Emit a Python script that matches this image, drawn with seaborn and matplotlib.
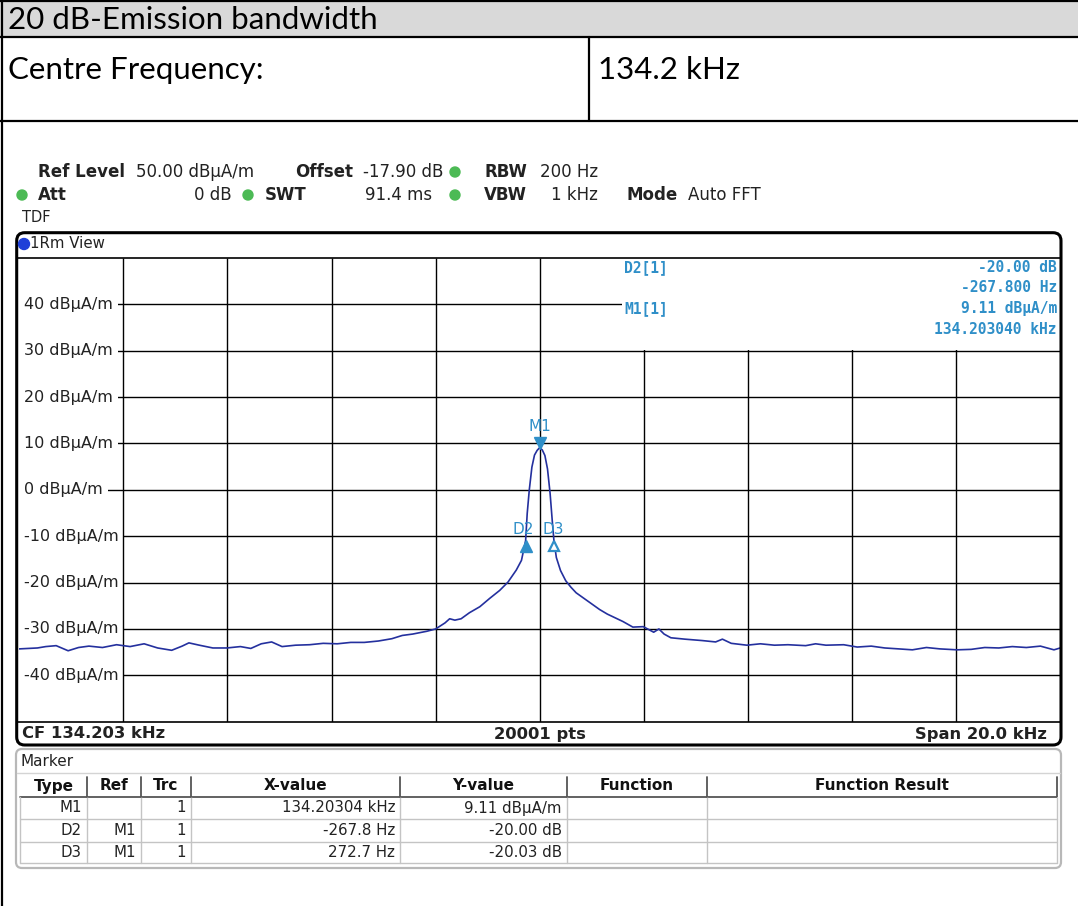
import numpy as np
import pandas as pd
import matplotlib
matplotlib.use("Agg")
import matplotlib.pyplot as plt
import seaborn as sns
from matplotlib.patches import Rectangle, FancyBboxPatch, Circle

# ---------------- data ----------------
cf_khz = 134.203
span_khz = 20.0
ref_level = 50.0
bottom_level = -50.0

offset_khz = [
    -10.0, -9.65, -9.49, -9.29, -9.06, -8.86, -8.66, -8.40, -8.13, -7.87,
    -7.60, -7.34, -7.07, -6.87, -6.74, -6.54, -6.28, -6.01, -5.75, -5.55,
    -5.35, -5.15, -4.95, -4.69, -4.42, -4.16, -3.89, -3.63, -3.37, -3.10,
    -2.84, -2.64, -2.44, -2.17, -2.00, -1.82, -1.73, -1.63, -1.51, -1.35,
    -1.15, -0.96, -0.77, -0.61, -0.45, -0.35, -0.27, -0.24, -0.20, -0.15,
    -0.10, -0.05, 0.0, 0.05, 0.10, 0.15, 0.20, 0.24, 0.273, 0.32,
    0.40, 0.50, 0.60, 0.70, 0.80, 0.90, 1.00, 1.15, 1.30, 1.45,
    1.60, 1.79, 1.99, 2.19, 2.29, 2.39, 2.52, 2.79, 3.12, 3.38,
    3.51, 3.68, 3.98, 4.24, 4.51, 4.77, 5.11, 5.30, 5.50, 5.84,
    6.10, 6.37, 6.63, 6.90, 7.16, 7.43, 7.69, 8.02, 8.29, 8.55,
    8.82, 9.08, 9.35, 9.62, 9.88, 10.0,
]
level_db = [
    -34.3, -34.1, -33.8, -33.6, -34.7, -34.0, -33.7, -34.0, -33.4, -33.8,
    -33.2, -34.1, -34.6, -33.7, -33.0, -33.5, -34.1, -34.1, -33.8, -34.2,
    -33.2, -32.8, -33.8, -33.5, -33.4, -33.1, -33.2, -32.9, -32.9, -32.6,
    -32.1, -31.4, -31.1, -30.5, -30.0, -28.7, -27.8, -28.1, -27.8, -26.5,
    -25.2, -23.4, -21.7, -19.9, -17.3, -15.2, -10.9, -5.1, 0.0, 4.9,
    7.5, 8.5, 9.11, 8.6, 7.4, 4.5, -0.8, -6.5, -10.9, -14.6,
    -17.4, -19.6, -21.0, -22.2, -23.0, -23.8, -24.6, -25.8, -26.8, -27.6,
    -28.4, -29.6, -29.5, -30.7, -30.0, -31.1, -31.9, -32.2, -32.5, -32.8,
    -32.2, -33.1, -33.5, -33.2, -33.5, -33.4, -33.6, -33.2, -33.5, -33.4,
    -33.9, -33.7, -34.1, -34.3, -34.5, -34.0, -34.3, -34.5, -34.4, -34.0,
    -34.1, -33.8, -34.0, -33.7, -34.5, -34.1,
]

y_ticks = [40, 30, 20, 10, 0, -10, -20, -30, -40]
y_tick_labels = ["40 dBµA/m", "30 dBµA/m", "20 dBµA/m", "10 dBµA/m", "0 dBµA/m",
                 "-10 dBµA/m", "-20 dBµA/m", "-30 dBµA/m", "-40 dBµA/m"]
x_grid_offsets_khz = [-8, -6, -4, -2, 0, 2, 4, 6, 8]

marker_names = ["M1", "D2", "D3"]
marker_offsets_khz = [0.0, -0.2678, 0.2727]
marker_levels = [9.11, -10.89, -10.92]

table_header = ["Type", "Ref", "Trc", "X-value", "Y-value", "Function", "Function Result"]
table_type = ["M1", "D2", "D3"]
table_ref = ["", "M1", "M1"]
table_trc = ["1", "1", "1"]
table_x = ["134.20304 kHz", "-267.8 Hz", "272.7 Hz"]
table_y = ["9.11 dBµA/m", "-20.00 dB", "-20.03 dB"]

# ---------------- figure ----------------
sns.set_style("white")
plt.rcParams['font.family'] = ['DejaVu Sans']

W, H = 1078, 906
fig = plt.figure(figsize=(W / 100, H / 100), dpi=100)


def px_rect(x0, y0, x1, y1):
    return [x0 / W, 1 - y1 / H, (x1 - x0) / W, (y1 - y0) / H]


bg = fig.add_axes([0, 0, 1, 1], zorder=0)
bg.set_xlim(0, W)
bg.set_ylim(H, 0)
bg.axis('off')

fg = fig.add_axes([0, 0, 1, 1], zorder=5)
fg.set_xlim(0, W)
fg.set_ylim(H, 0)
fg.axis('off')
fg.patch.set_alpha(0)

# --- document table ---
DOC_FONT = ['Lato', 'DejaVu Sans']
bg.add_patch(Rectangle((0, 0), W, 37, fc='#d9d9d9', ec='none'))
for y in (1, 37, 121):
    bg.plot([0, W], [y, y], color='black', lw=1.6, solid_capstyle='butt')
bg.plot([2, 2], [0, H], color='black', lw=1.6)
bg.plot([589, 589], [37, 121], color='black', lw=1.6)
DFS = 22.5
bg.text(8, 20, "20 dB-Emission bandwidth", fontsize=DFS, family=DOC_FONT,
        fontweight='normal', va='center', ha='left', color='black')
bg.text(8, 70, "Centre Frequency:", fontsize=DFS, family=DOC_FONT,
        fontweight='normal', va='center', ha='left', color='black')
bg.text(598, 70, "134.2 kHz", fontsize=DFS, family=DOC_FONT,
        fontweight='normal', va='center', ha='left', color='black')

# --- analyzer header ---
GREEN = '#4cba55'
HFS = 12
TXT = '#222222'
fg.text(38, 172, "Ref Level", fontsize=HFS, fontweight='bold', va='center', color=TXT)
fg.text(136, 172, "50.00 dBµA/m", fontsize=HFS, va='center', color=TXT)
fg.text(295, 172, "Offset", fontsize=HFS, fontweight='bold', va='center', color=TXT)
fg.text(363, 172, "-17.90 dB", fontsize=HFS, va='center', color=TXT)
fg.add_patch(Circle((455, 172), 5, color=GREEN))
fg.text(484, 172, "RBW", fontsize=HFS, fontweight='bold', va='center', color=TXT)
fg.text(540, 172, "200 Hz", fontsize=HFS, va='center', color=TXT)

fg.add_patch(Circle((22, 195), 5, color=GREEN))
fg.text(38, 195, "Att", fontsize=HFS, fontweight='bold', va='center', color=TXT)
fg.text(232, 195, "0 dB", fontsize=HFS, va='center', ha='right', color=TXT)
fg.add_patch(Circle((248, 195), 5, color=GREEN))
fg.text(265, 195, "SWT", fontsize=HFS, fontweight='bold', va='center', color=TXT)
fg.text(432, 195, "91.4 ms", fontsize=HFS, va='center', ha='right', color=TXT)
fg.add_patch(Circle((455, 195), 5, color=GREEN))
fg.text(484, 195, "VBW", fontsize=HFS, fontweight='bold', va='center', color=TXT)
fg.text(598, 195, "1 kHz", fontsize=HFS, va='center', ha='right', color=TXT)
fg.text(626, 195, "Mode", fontsize=HFS, fontweight='bold', va='center', color=TXT)
fg.text(688, 195, "Auto FFT", fontsize=HFS, va='center', color=TXT)
fg.text(22, 217, "TDF", fontsize=HFS - 1.5, va='center', color=TXT)

# --- analyzer frame ---
fg.add_patch(FancyBboxPatch((16.7, 232.7), 1061 - 16.7, 745 - 232.7,
                            boxstyle="round,pad=0,rounding_size=8",
                            fc='none', ec='black', lw=2.2))
fg.plot([17, 1061], [258, 258], color='black', lw=1.2)
fg.plot([17, 1061], [721.7, 721.7], color='black', lw=1.2)
fg.add_patch(Circle((24, 244), 5.5, color='#1f3fd8'))
fg.text(30, 244, "1Rm View", fontsize=HFS - 1.2, va='center', color=TXT)

fg.text(22, 734, "CF 134.203 kHz", fontsize=11.8, fontweight='bold', va='center', color=TXT)
fg.text(540, 734, "20001 pts", fontsize=11.8, fontweight='bold', va='center', ha='center', color=TXT)
fg.text(1047, 734, "Span 20.0 kHz", fontsize=11.8, fontweight='bold', va='center', ha='right', color=TXT)

# --- main trace axes ---
ax = fig.add_axes(px_rect(19.2, 258, 1060.2, 721.7), zorder=2)
df = pd.DataFrame({"freq": cf_khz + np.array(offset_khz), "level": level_db})
sns.lineplot(data=df, x="freq", y="level", ax=ax, color='#24309e', lw=1.2,
             estimator=None, sort=False, zorder=3)
ax.set_xlim(cf_khz - span_khz / 2, cf_khz + span_khz / 2)
ax.set_ylim(bottom_level, ref_level)
ax.set_xticks([])
ax.set_yticks(y_ticks)
ax.tick_params(length=0, labelbottom=False, labelleft=False)
ax.set_axisbelow(True)
ax.yaxis.grid(True, color='black', lw=1.0)
ax.xaxis.grid(False)
ax.vlines([cf_khz + o for o in x_grid_offsets_khz], bottom_level, ref_level,
          color='black', lw=1.0, zorder=1.5)
ax.set_xlabel("")
ax.set_ylabel("")
for s in ax.spines.values():
    s.set_visible(False)

for v, lab in zip(y_ticks, y_tick_labels):
    ax.text(cf_khz - span_khz / 2 + 0.095, v, lab, fontsize=11.5, va='center', ha='left',
            color='#222222', zorder=1,
            bbox=dict(fc='white', ec='none', pad=3.5))

# marker info box covering grid
ax.add_patch(Rectangle((cf_khz + 1.58, 30.25), span_khz / 2 - 1.58, 19.75,
                       fc='white', ec='none', zorder=1.6))

MC = '#2f8fc8'
mfont = dict(family=['DejaVu Sans Mono'], fontweight='bold', fontsize=10.5, color=MC, va='center')
fg.text(624, 268, "D2[1]", ha='left', **mfont)
fg.text(1057, 268, "-20.00 dB", ha='right', **mfont)
fg.text(1057, 288, "-267.800 Hz", ha='right', **mfont)
fg.text(624, 309, "M1[1]", ha='left', **mfont)
fg.text(1057, 309, "9.11 dBµA/m", ha='right', **mfont)
fg.text(1057, 329, "134.203040 kHz", ha='right', **mfont)

# markers on trace
mx = [cf_khz + o for o in marker_offsets_khz]
ax.plot(mx[0], marker_levels[0] + 1.1, marker='v', ms=8, color=MC, zorder=4)
ax.plot(mx[1], marker_levels[1] - 1.2, marker='^', ms=8, color=MC, zorder=4)
ax.plot(mx[2], marker_levels[2] - 1.2, marker='^', ms=7, mfc='white', mec=MC, mew=1.6, zorder=4)
ax.text(mx[0], marker_levels[0] + 4.5, marker_names[0], color=MC, fontsize=11, ha='center', va='center', zorder=4)
ax.text(mx[1] - 0.05, marker_levels[1] + 2.3, marker_names[1], color=MC, fontsize=11, ha='center', va='center', zorder=4)
ax.text(mx[2] - 0.02, marker_levels[2] + 2.3, marker_names[2], color=MC, fontsize=11, ha='center', va='center', zorder=4)

# --- marker table panel ---
fg.add_patch(FancyBboxPatch((16, 749), 1061 - 16, 868 - 749,
                            boxstyle="round,pad=0,rounding_size=6",
                            fc='white', ec='#b8b8b8', lw=1.6))
fg.text(20, 761, "Marker", fontsize=11, va='center', color=TXT)
fg.plot([17, 1060], [773, 773], color='#d4d4d4', lw=1.0)

col_edges = [20, 87, 141, 191, 400, 567, 707, 1057]
row_edges = [775, 797, 819, 841.5, 863]
for y in row_edges[2:]:
    fg.plot([col_edges[0], col_edges[-1]], [y, y], color='#c4c4c4', lw=1.0)
fg.plot([col_edges[0], col_edges[-1]], [row_edges[1], row_edges[1]], color='#555555', lw=1.3)
for x in col_edges[1:-1]:
    fg.plot([x, x], [row_edges[1], row_edges[-1]], color='#c4c4c4', lw=1.0)
    fg.plot([x, x], [row_edges[0] + 2, row_edges[1]], color='#555555', lw=1.3)
fg.plot([col_edges[0], col_edges[0]], [row_edges[1], row_edges[-1]], color='#c4c4c4', lw=1.0)
fg.plot([col_edges[-1], col_edges[-1]], [row_edges[0] + 2, row_edges[1]], color='#555555', lw=1.3)
fg.plot([col_edges[-1], col_edges[-1]], [row_edges[1], row_edges[-1]], color='#c4c4c4', lw=1.0)

hy = (row_edges[0] + row_edges[1]) / 2
for i, h in enumerate(table_header):
    fg.text((col_edges[i] + col_edges[i + 1]) / 2, hy, h, fontsize=11,
            fontweight='bold', ha='center', va='center', color='#111111')

cols = [table_type, table_ref, table_trc, table_x, table_y]
for r in range(3):
    yc = (row_edges[r + 1] + row_edges[r + 2]) / 2
    for c, col in enumerate(cols):
        fg.text(col_edges[c + 1] - 5, yc, col[r], fontsize=10.8, ha='right', va='center',
                color='#222222')

fig.savefig("out.png", dpi=100)
